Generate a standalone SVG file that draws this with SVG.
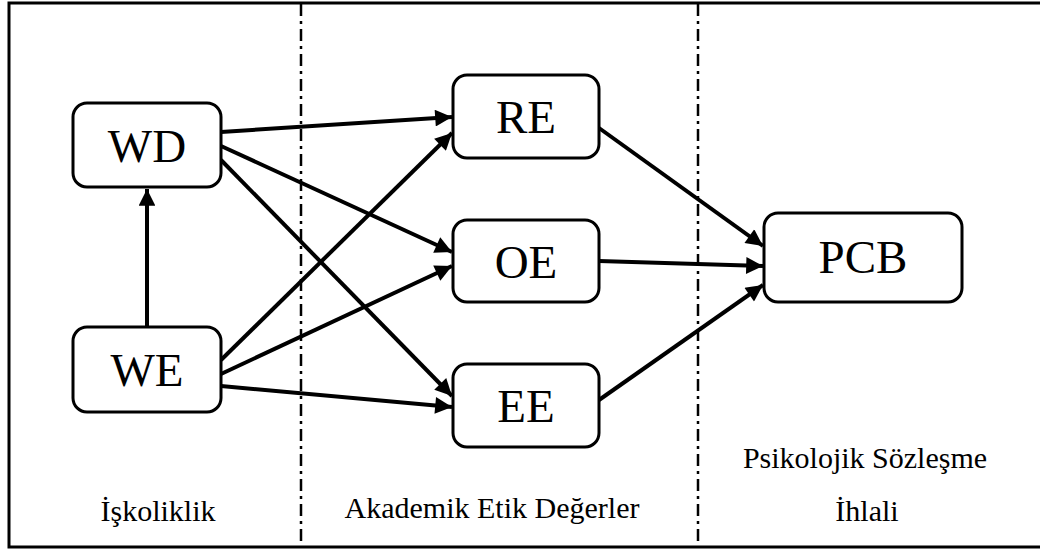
<svg xmlns="http://www.w3.org/2000/svg" width="1040" height="551" viewBox="0 0 1040 551">
  <style>
    .frame { fill: none; stroke: #000; stroke-width: 3; }
    .divider { stroke: #000; stroke-width: 2.5; stroke-dasharray: 12 5 3 5; }
    .box { fill: #fff; stroke: #000; stroke-width: 3; }
    .node-label { font-family: "Liberation Serif", "Times New Roman", serif; font-size: 47px; text-anchor: middle; fill: #000; }
    .section { font-family: "Liberation Serif", "Times New Roman", serif; font-size: 30px; text-anchor: middle; fill: #000; }
    .edge { stroke: #000; stroke-width: 4; fill: none; marker-end: url(#head); }
  </style>
  <defs>
    <marker id="head" viewBox="0 0 10 10" refX="10" refY="5" markerWidth="5" markerHeight="4.2" orient="auto" markerUnits="strokeWidth">
      <path d="M0,0 L10,5 L0,10 z" fill="#000"/>
    </marker>
  </defs>

  <rect width="1040" height="551" fill="#fff"/>

  <!-- outer frame, open on the right -->
  <path class="frame" d="M1042,3 L9,3 L9,547 L1042,547"/>

  <!-- section dividers -->
  <line class="divider" x1="301" y1="4" x2="301" y2="546"/>
  <line class="divider" x1="698" y1="4" x2="698" y2="546"/>

  <!-- connectors -->
  <g id="connectors">
    <line class="edge" x1="147" y1="327" x2="147" y2="189"/>
    <line class="edge" x1="221" y1="132" x2="452" y2="117"/>
    <line class="edge" x1="221" y1="146" x2="452" y2="252"/>
    <line class="edge" x1="221" y1="160" x2="452" y2="396"/>
    <line class="edge" x1="221" y1="360" x2="452" y2="133"/>
    <line class="edge" x1="221" y1="374" x2="452" y2="266"/>
    <line class="edge" x1="221" y1="386" x2="452" y2="407"/>
    <line class="edge" x1="599" y1="128" x2="763" y2="246"/>
    <line class="edge" x1="599" y1="261" x2="763" y2="266"/>
    <line class="edge" x1="599" y1="400" x2="763" y2="285"/>
  </g>

  <!-- nodes -->
  <g id="WD">
    <rect class="box" x="73" y="103" width="148" height="84" rx="14"/>
    <text class="node-label" x="147" y="162">WD</text>
  </g>
  <g id="WE">
    <rect class="box" x="73" y="327" width="148" height="85" rx="14"/>
    <text class="node-label" x="147" y="386">WE</text>
  </g>
  <g id="RE">
    <rect class="box" x="453" y="75" width="146" height="83" rx="14"/>
    <text class="node-label" x="526" y="133">RE</text>
  </g>
  <g id="OE">
    <rect class="box" x="453" y="220" width="146" height="82" rx="14"/>
    <text class="node-label" x="526" y="278">OE</text>
  </g>
  <g id="EE">
    <rect class="box" x="453" y="364" width="146" height="83" rx="14"/>
    <text class="node-label" x="526" y="422">EE</text>
  </g>
  <g id="PCB">
    <rect class="box" x="764" y="213" width="198" height="89" rx="14"/>
    <text class="node-label" x="863" y="273">PCB</text>
  </g>

  <!-- section titles -->
  <text class="section" x="158" y="521">İşkoliklik</text>
  <text class="section" x="492" y="518">Akademik Etik Değerler</text>
  <text class="section" x="865" y="468">Psikolojik Sözleşme</text>
  <text class="section" x="867" y="521">İhlali</text>
</svg>
